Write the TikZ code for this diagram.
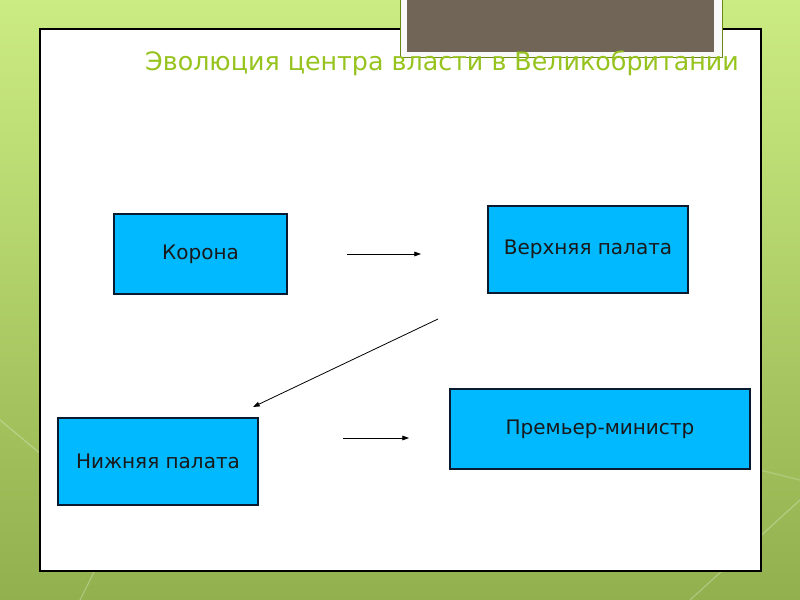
\documentclass[tikz,border=0pt]{standalone}
\usepackage{fontspec}
\setmainfont{DejaVu Sans}
\usetikzlibrary{arrows.meta}
\definecolor{bgtop}{HTML}{CBEC82}
\definecolor{bgbot}{HTML}{92B04E}
\definecolor{titlegreen}{HTML}{96C31E}
\definecolor{boxblue}{HTML}{00B9FF}
\definecolor{boxline}{HTML}{0A1A30}
\definecolor{brownbox}{HTML}{706556}
\tikzset{
  govbox/.style={draw=boxline, line width=0.8pt, fill=boxblue, font=\fontsize{15}{18}\selectfont, text=black!90},
  flow/.style={-{Triangle[length=5pt,width=3.5pt]}, line width=0.6pt, draw=black}
}
\begin{document}
\begin{tikzpicture}[x=0.75pt,y=-0.75pt]
\useasboundingbox (0,0) rectangle (800,600);
% background
\shade[top color=bgtop, bottom color=bgbot] (0,0) rectangle (800,600);
\draw[white, opacity=0.25, line width=1pt] (0,420) -- (120,520) -- (80,600);
\draw[white, opacity=0.25, line width=1pt] (690,600) -- (800,500);
\draw[white, opacity=0.2, line width=1pt] (760,470) -- (800,480);
% white panel
\draw[black, line width=0.9pt, fill=white] (40,29) rectangle (761,571);
% brown box
\draw[titlegreen!70!black, line width=0.6pt, fill=white!95!gray] (400,-2) rectangle (722,57);
\fill[brownbox] (407,-2) rectangle (714,52);
% title
\node[anchor=base, text=titlegreen, font=\fontsize{19}{22}\selectfont] (title) at (442,70) {Эволюция центра власти в Великобритании};
% boxes
\node[govbox, minimum width=173*0.75pt, minimum height=80*0.75pt] (crown) at (200.5,254) {Корона};
\node[govbox, minimum width=200*0.75pt, minimum height=87*0.75pt] (upper) at (588,249.5) {Верхняя палата};
\node[govbox, minimum width=200*0.75pt, minimum height=87*0.75pt] (lower) at (158,461.5) {Нижняя палата};
\node[govbox, minimum width=300*0.75pt, minimum height=80*0.75pt] (pm) at (600,429) {Премьер-министр};
% arrows
\coordinate (a1s) at (347,254);
\coordinate (a1e) at (421,254);
\coordinate (a2s) at (438,319);
\coordinate (a2e) at (253,407);
\coordinate (a3s) at (343,438);
\coordinate (a3e) at (409,438);
\draw[flow] (a1s) -- (a1e);
\draw[flow] (a2s) -- (a2e);
\draw[flow] (a3s) -- (a3e);
\end{tikzpicture}
\end{document}
